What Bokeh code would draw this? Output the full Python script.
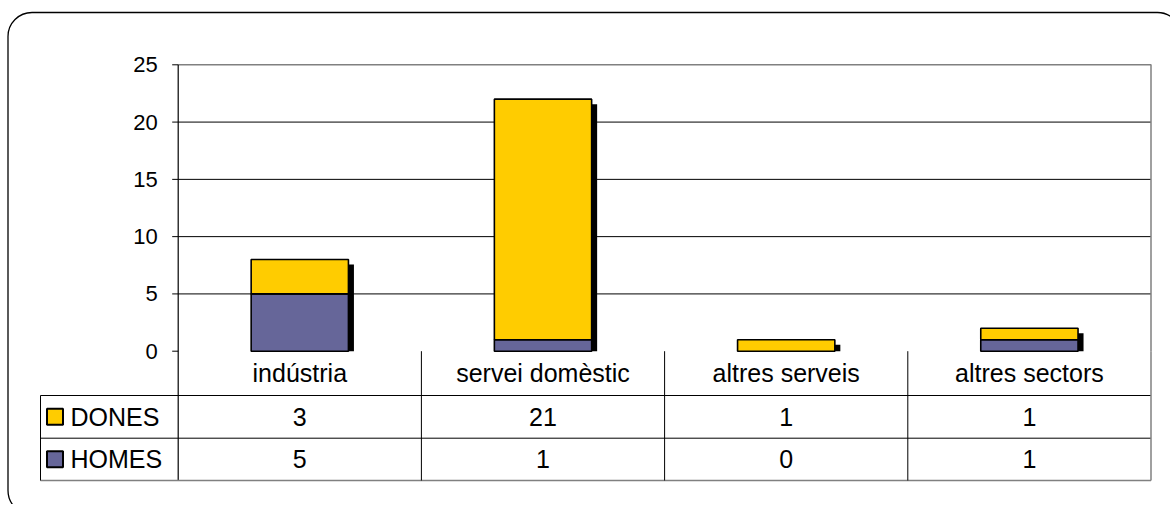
from bokeh.plotting import figure
from bokeh.models import Range1d
from bokeh.core.properties import value
from bokeh.embed import file_html
from bokeh.resources import INLINE

# ---- data ----
categories = ["indústria", "servei domèstic", "altres serveis", "altres sectors"]
dones = [3, 21, 1, 1]
homes = [5, 1, 0, 1]
series_names = ["DONES", "HOMES"]
series_colors = ["#FFCC00", "#666699"]
y_ticks = [0, 5, 10, 15, 20, 25]

# ---- layout (pixels on page) ----
W, H = 1170, 504
PAGE0 = 0
AX_X = 177.7          # page x of y axis
COL_W = 243.2         # px per category
Y0 = 350.7            # page y of value 0
PX_PER_UNIT = 11.456  # px per value unit
ROW_LINES = [350.7, 395.0, 437.7, 480.0]
LEG_X = 40.0
FONT = value("Liberation Sans")

def X(px):
    return (px - AX_X) / COL_W

def Y(py):
    return (Y0 - py) / PX_PER_UNIT

p = figure(width=W, height=H, x_range=Range1d(X(PAGE0), X(PAGE0 + W)),
           y_range=Range1d(Y(PAGE0 + H), Y(PAGE0)),
           x_axis_type=None, y_axis_type=None, toolbar_location=None,
           output_backend="svg", min_border=0, outline_line_color=None)
p.grid.visible = False

# outer rounded border
try:
    p.quad(left=[X(7.5)], right=[X(1181)], top=[Y(12)], bottom=[Y(514)],
           fill_color=None, line_color="black", line_width=1.3, border_radius=24)
except Exception:
    p.quad(left=[X(7.5)], right=[X(1181)], top=[Y(12)], bottom=[Y(514)],
           fill_color=None, line_color="black", line_width=1.3)

n = len(categories)
centers = [i + 0.5 for i in range(n)]
totals = [d + h for d, h in zip(dones, homes)]

# gridlines
grid_t = [t for t in y_ticks if 0 < t < max(y_ticks)]
p.segment(x0=[0] * len(grid_t), x1=[n] * len(grid_t), y0=grid_t, y1=grid_t,
          line_color="black", line_width=1)
# plot area border (top and right)
p.line(x=[0, n, n], y=[max(y_ticks), max(y_ticks), 0], line_color="#808080", line_width=1.5)

# shadows
p.vbar(x=[c + X(AX_X + 5.5) for c in centers], width=0.4, bottom=0,
       top=[t - 5 / PX_PER_UNIT for t in totals], fill_color="black", line_color=None)

# stacked bars
hx = [c for c, h in zip(centers, homes) if h > 0]
hv = [h for h in homes if h > 0]
p.vbar(x=hx, width=0.4, bottom=0, top=hv, fill_color=series_colors[1],
       line_color="black", line_width=1.6)
p.vbar(x=centers, width=0.4, bottom=homes, top=totals, fill_color=series_colors[0],
       line_color="black", line_width=1.6)

# y axis: line, ticks, labels
p.segment(x0=[0], x1=[0], y0=[max(y_ticks)], y1=[Y(ROW_LINES[-1])], line_color="black", line_width=1.2)
p.segment(x0=[X(AX_X - 6)] * len(y_ticks), x1=[0] * len(y_ticks), y0=y_ticks, y1=y_ticks,
          line_color="black", line_width=1)
p.text(x=[X(AX_X - 20.5)] * len(y_ticks), y=y_ticks, text=[str(t) for t in y_ticks],
       text_align="right", text_baseline="middle", text_font=FONT,
       text_font_size=value("22px"), text_color="black")

# ---- data table ----
ry = [Y(v) for v in ROW_LINES]
p.segment(x0=[X(LEG_X)] * 2, x1=[n] * 2, y0=ry[1:3], y1=ry[1:3], line_color="black", line_width=1)
p.segment(x0=[X(LEG_X)], x1=[n], y0=[ry[3]], y1=[ry[3]], line_color="#808080", line_width=1.5)
p.segment(x0=[1, 2, 3], x1=[1, 2, 3], y0=[ry[0]] * 3, y1=[ry[3]] * 3, line_color="black", line_width=1)
p.segment(x0=[n], x1=[n], y0=[ry[0]], y1=[ry[3]], line_color="#808080", line_width=1.5)
p.segment(x0=[X(LEG_X)], x1=[X(LEG_X)], y0=[ry[1]], y1=[ry[3]], line_color="black", line_width=1)

row_mid = [(ry[i] + ry[i + 1]) / 2 for i in range(3)]
FS = value("25px")
p.text(x=centers, y=[row_mid[0]] * n, text=categories, text_align="center",
       text_baseline="middle", text_font=FONT, text_font_size=FS, text_color="black")
p.text(x=centers, y=[row_mid[1]] * n, text=[str(v) for v in dones], text_align="center",
       text_baseline="middle", text_font=FONT, text_font_size=FS, text_color="black")
p.text(x=centers, y=[row_mid[2]] * n, text=[str(v) for v in homes], text_align="center",
       text_baseline="middle", text_font=FONT, text_font_size=FS, text_color="black")

# legend keys in table
p.scatter(x=[X(54.5)] * 2, y=row_mid[1:], marker="square", size=16,
          fill_color=series_colors, line_color="black", line_width=2)
p.text(x=[X(70)] * 2, y=row_mid[1:], text=series_names, text_align="left",
       text_baseline="middle", text_font=FONT, text_font_size=FS, text_color="black")

open("out.html", "w").write(file_html(p, INLINE))
